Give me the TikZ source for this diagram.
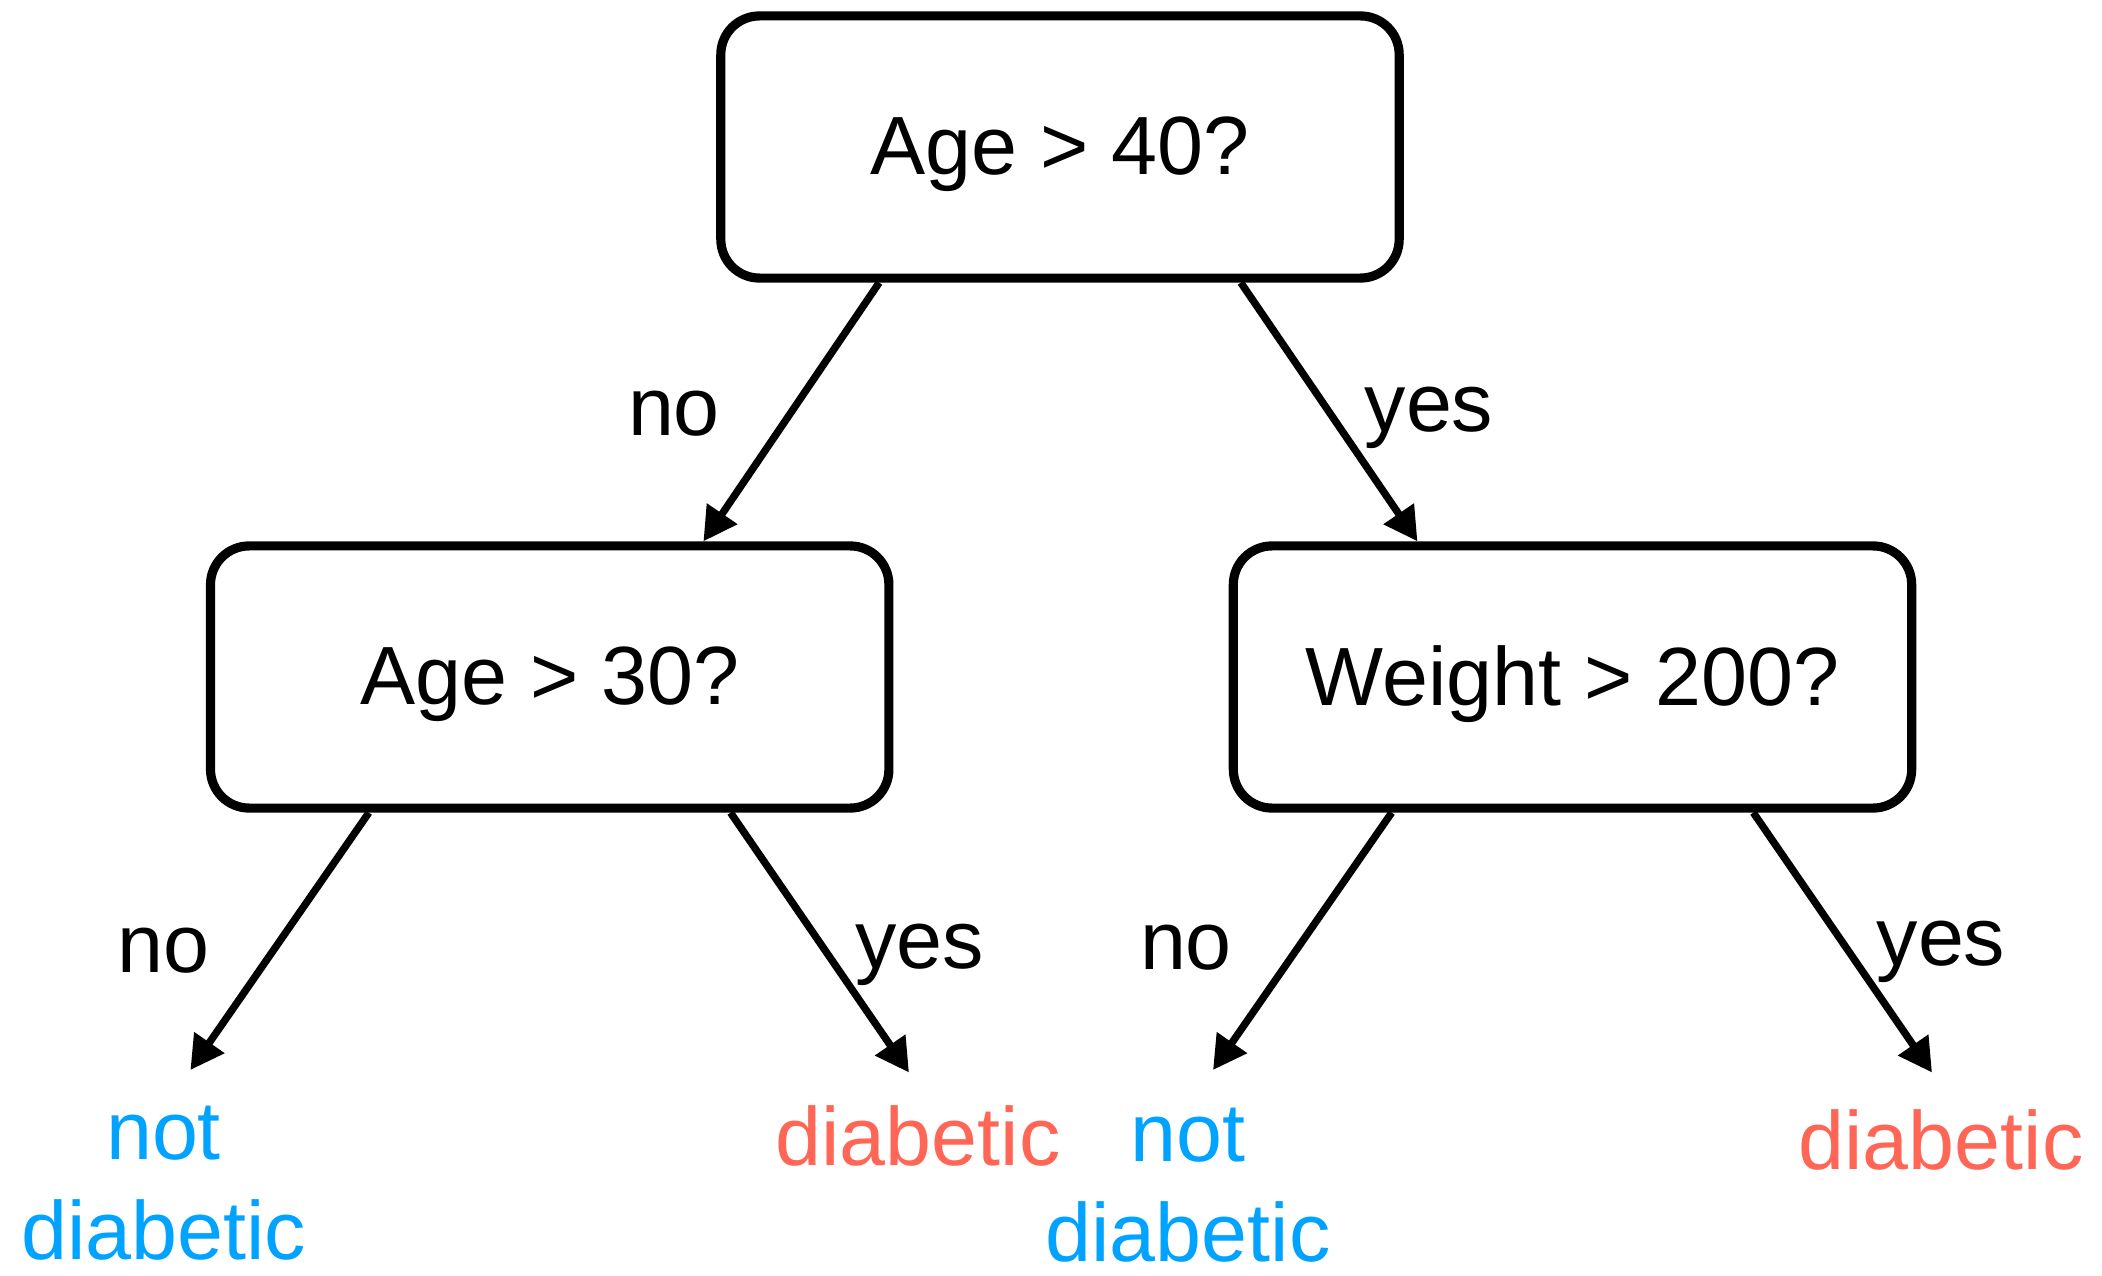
\documentclass[tikz,border=0pt]{standalone}
\usepackage{fontspec}
\setmainfont{Liberation Sans}
\usetikzlibrary{arrows.meta,calc}
\definecolor{leafblue}{HTML}{00A3FF}
\definecolor{leafred}{HTML}{FF6656}
\begin{document}
\begin{tikzpicture}[x=0.01cm,y=-0.01cm,
  decision/.style={draw=black,line width=2.6pt,rounded corners=11pt,minimum width=6.78cm,minimum height=2.62cm,inner sep=0pt},
  edgelbl/.style={font=\fontsize{23.5}{28}\selectfont,inner sep=0pt},
  leafpos/.style={font=\fontsize{23.5}{28.5}\selectfont,align=center,inner sep=0pt,text=leafred},
  leafneg/.style={font=\fontsize{23.5}{28.5}\selectfont,align=center,inner sep=0pt,text=leafblue},
  conn/.style={line width=2.1pt,-{Triangle[length=9.5pt,width=10pt]}}]
\useasboundingbox (0,0) rectangle (2102,1276);
\node[decision] (top) at (1060,147) {};
\node[decision] (left) at (549.7,677) {};
\node[decision] (right) at (1572.5,677) {};
\node[edgelbl] (toptext) at (1060,154) {Age > 40?};
\node[edgelbl] (lefttext) at (549.7,684) {Age > 30?};
\node[edgelbl] (righttext) at (1572.5,684) {Weight > 200?};
\coordinate (lnotip) at (190.4,1070);
\coordinate (lyestip) at (909,1072.5);
\coordinate (rnotip) at (1213,1070);
\coordinate (ryestip) at (1932,1072.5);
\draw[conn] ($(top.south west)!0.237!(top.south east)$) -- ($(left.north west)!0.7236!(left.north east)$);
\draw[conn] ($(top.south west)!0.763!(top.south east)$) -- ($(right.north west)!0.2745!(right.north east)$);
\draw[conn] ($(left.south west)!0.237!(left.south east)$) -- (lnotip);
\draw[conn] ($(left.south west)!0.763!(left.south east)$) -- (lyestip);
\draw[conn] ($(right.south west)!0.237!(right.south east)$) -- (rnotip);
\draw[conn] ($(right.south west)!0.763!(right.south east)$) -- (ryestip);
\node[edgelbl] (l1) at (674,414) {no};
\node[edgelbl] (l2) at (1429,418) {yes};
\node[edgelbl] (l3) at (163.5,951) {no};
\node[edgelbl] (l4) at (919.7,955) {yes};
\node[edgelbl] (l5) at (1186,948) {no};
\node[edgelbl] (l6) at (1941,952) {yes};
\node[leafneg] (leaf1) at (163.5,1183) {not\\diabetic};
\node[leafpos] (leaf2) at (918,1136) {diabetic};
\node[leafneg] (leaf3) at (1188,1185) {not\\diabetic};
\node[leafpos] (leaf4) at (1941,1140) {diabetic};
\end{tikzpicture}
\end{document}
